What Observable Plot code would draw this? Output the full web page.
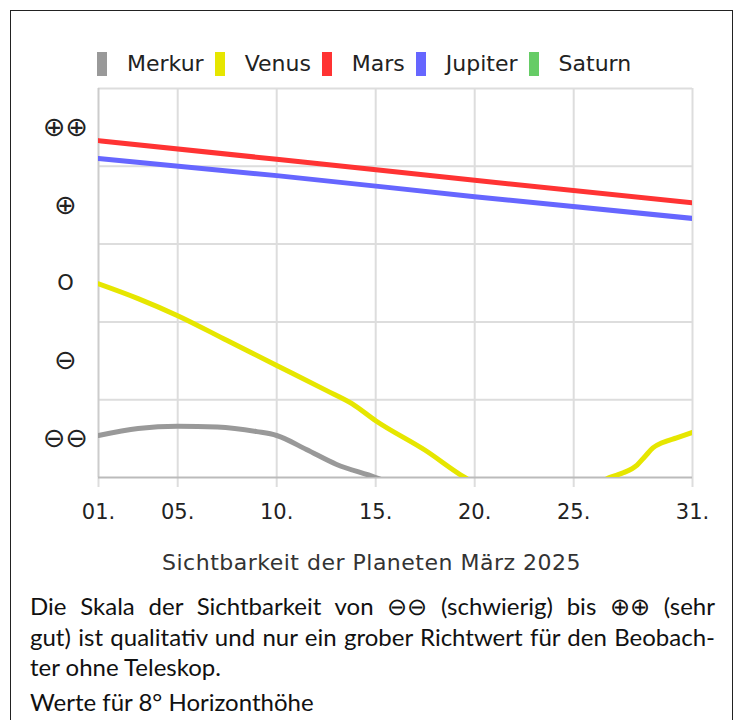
<!DOCTYPE html>
<html><head><meta charset="utf-8">
<script src="https://cdn.jsdelivr.net/npm/d3@7"></script>
<script src="https://cdn.jsdelivr.net/npm/@observablehq/plot@0.6"></script>
<style>
body{margin:0;background:#fff;font-family:"DejaVu Sans",Verdana,sans-serif;}
#box{position:absolute;left:10px;top:10px;width:721px;height:760px;border:1px solid #222;}
#legend{height:67px;box-sizing:border-box;padding-top:39px;padding-left:86px;display:flex;align-items:center;}
.sw{width:10px;height:24px;margin-right:20px;flex:none}
.lab{font-size:22px;letter-spacing:0px;color:#222;margin-right:11px;line-height:24px;white-space:nowrap}
#chart svg{display:block}
#title{text-align:center;font-size:22px;letter-spacing:0.5px;color:#333;margin-top:21px;line-height:24px}
#cap{font-family:Lato,"Open Sans",sans-serif;font-size:24px;color:#111;padding:0 17px 0 19px;margin-top:16px;line-height:30.5px}
.j{text-align:justify;text-align-last:justify}
</style>
</head><body>
<div id="box">
  <div id="legend"></div>
  <div id="chart"></div>
  <div id="title"></div>
  <div id="cap">
    <div class="j">Die Skala der Sichtbarkeit von ⊖⊖ (schwierig) bis ⊕⊕ (sehr</div>
    <div class="j">gut) ist qualitativ und nur ein grober Richtwert für den Beobach-</div>
    <div>ter ohne Teleskop.</div>
    <div style="margin-top:4px">Werte für 8° Horizonthöhe</div>
  </div>
</div>
<script>
const planets = ["Merkur","Venus","Mars","Jupiter","Saturn"];
const colors  = ["#999999","#e6e600","#ff3333","#6666ff","#66cc66"];
const chartTitle = "Sichtbarkeit der Planeten März 2025";

const xTicks = [1,5,10,15,20,25,31];
const xTickLabels = ["01.","05.","10.","15.","20.","25.","31."];
const yTicks = [0.5,1.5,2.5,3.5,4.5];
const yTickLabels = ["⊖⊖","⊖","O","⊕","⊕⊕"];

const merkurDays = [1,3,5,7,9,10,11.5,13,15,16];
const merkurVals = [0.54,0.63,0.66,0.65,0.59,0.54,0.36,0.17,0.0,-0.1];
const venusDays = [1,3,5,7.5,10,12.5,13.8,15,17.5,19.5,22,25,26.8,27.5,28.2,28.6,29.0,29.5,30.2,31];
const venusVals = [2.49,2.30,2.08,1.76,1.44,1.12,0.95,0.73,0.35,0.0,-0.3,-0.3,0.0,0.06,0.16,0.27,0.38,0.45,0.51,0.58];
const marsDays = [1,10,20,31];
const marsVals = [4.33,4.09,3.82,3.53];
const jupiterDays = [1,10,20,31];
const jupiterVals = [4.10,3.88,3.61,3.33];
const saturnDays = [];
const saturnVals = [];

const series = [
  ["Merkur",merkurDays,merkurVals],
  ["Venus",venusDays,venusVals],
  ["Mars",marsDays,marsVals],
  ["Jupiter",jupiterDays,jupiterVals],
  ["Saturn",saturnDays,saturnVals]
];
const rows = series.flatMap(([p,ds,vs]) => ds.map((d,i)=>({planet:p, day:d, value:vs[i]})));
const yLabelRows = yTicks.map((v,i)=>({v, label:yTickLabels[i]}));

// legend
const leg = document.getElementById("legend");
planets.forEach((p,i)=>{
  const s=document.createElement("div");s.className="sw";s.style.background=colors[i];leg.appendChild(s);
  const t=document.createElement("div");t.className="lab";t.textContent=p;leg.appendChild(t);
});
document.getElementById("title").textContent = chartTitle;

const chart = Plot.plot({
  width:721, height:452,
  marginLeft:87, marginRight:40, marginTop:10, marginBottom:53,
  x:{domain:[1,31], axis:null},
  y:{domain:[0,5], axis:null},
  color:{domain:planets, range:colors},
  style:{fontFamily:"DejaVu Sans, Verdana, sans-serif", fontSize:"21px", color:"#222", background:"transparent", overflow:"visible"},
  marks:[
    Plot.gridY({ticks:[1,2,3,4,5], stroke:"#dddddd", strokeOpacity:1, strokeWidth:2}),
    Plot.gridX({ticks:[5,10,15,20,25,31], stroke:"#dddddd", strokeOpacity:1, strokeWidth:2}),
    Plot.axisX({ticks:xTicks, tickFormat:(d)=>xTickLabels[xTicks.indexOf(d)], tickSize:10, tickPadding:17, stroke:"#dddddd", strokeWidth:2, fill:"#222", label:null}),
    Plot.text(yLabelRows, {y:"v", text:"label", frameAnchor:"left", dx:-33, textAnchor:"middle", fill:"#222",
      fontSize:(d)=> d.label === "O" ? 21 : 27}),
    Plot.ruleX([1], {stroke:"#cccccc", strokeWidth:2}),
    Plot.ruleY([0], {stroke:"#bbbbbb", strokeWidth:2}),
    Plot.line(rows, {x:"day", y:"value", z:"planet", stroke:"planet", strokeWidth:5, curve:"monotone-x", clip:true})
  ]
});
document.getElementById("chart").appendChild(chart);
</script>
</body></html>
